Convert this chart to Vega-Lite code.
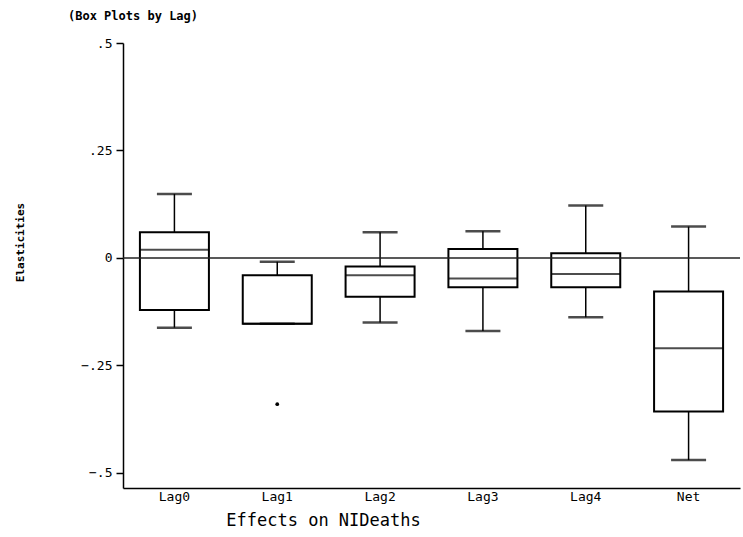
{
  "$schema": "https://vega.github.io/schema/vega-lite/v6.json",
  "width": 617,
  "height": 445,
  "autosize": {"type": "none"},
  "padding": {"left": 123, "top": 43, "right": 3, "bottom": 49},
  "background": "white",
  "config": {"view": {"stroke": null}, "font": "DejaVu Sans Mono"},
  "title": {"text": "(Box Plots by Lag)", "anchor": "start", "frame": "group", "dx": -55, "offset": 14, "fontSize": 12, "fontWeight": "bold", "font": "DejaVu Sans Mono", "color": "black"},
  "datasets": {
    "boxes": [
      {"lag": "Lag0", "lower": -0.162, "q1": -0.121, "median": 0.019, "q3": 0.060, "upper": 0.149},
      {"lag": "Lag1", "lower": -0.153, "q1": -0.153, "median": -0.153, "q3": -0.040, "upper": -0.009},
      {"lag": "Lag2", "lower": -0.150, "q1": -0.090, "median": -0.040, "q3": -0.020, "upper": 0.060},
      {"lag": "Lag3", "lower": -0.170, "q1": -0.068, "median": -0.048, "q3": 0.021, "upper": 0.062},
      {"lag": "Lag4", "lower": -0.138, "q1": -0.068, "median": -0.037, "q3": 0.011, "upper": 0.122},
      {"lag": "Net", "lower": -0.470, "q1": -0.357, "median": -0.210, "q3": -0.078, "upper": 0.073}
    ],
    "outliers": [
      {"lag": "Lag1", "value": -0.340}
    ],
    "zero": [
      {"ref": 0}
    ]
  },
  "layer": [
    {
      "data": {"name": "boxes"},
      "mark": {"type": "rule", "color": "black", "strokeWidth": 1.5},
      "encoding": {
        "x": {
          "field": "lag", "type": "nominal", "sort": null,
          "scale": {"paddingInner": 0, "paddingOuter": 0, "domain": ["Lag0", "Lag1", "Lag2", "Lag3", "Lag4", "Net"]},
          "axis": {
            "title": "Effects on NIDeaths", "titleFontSize": 17, "titleFontWeight": "normal", "titleColor": "black", "titleFont": "DejaVu Sans Mono",
            "titleX": 200, "titleY": 32, "titleAnchor": "middle", "titleBaseline": "middle",
            "labelAngle": 0, "labelFontSize": 13, "labelColor": "black", "labelPadding": 2,
            "ticks": false, "domainColor": "black", "domainWidth": 1.5, "grid": false
          }
        },
        "y": {
          "field": "lower", "type": "quantitative",
          "scale": {"domain": [-0.535, 0.5], "nice": false, "zero": false},
          "axis": {
            "title": "Elasticities", "titleFontSize": 11, "titleFontWeight": "bold", "titleColor": "black", "titleFont": "DejaVu Sans Mono",
            "titleX": -103, "titleY": 199, "titleAngle": -90, "titleBaseline": "middle",
            "values": [-0.5, -0.25, 0, 0.25, 0.5],
            "labelExpr": "datum.value == 0 ? '0' : replace(format(datum.value, '.2~f'), '0.', '.')",
            "labelFontSize": 13, "labelColor": "black", "labelPadding": 4,
            "tickSize": 7, "tickColor": "black", "tickWidth": 1.5,
            "domainColor": "black", "domainWidth": 1.5, "grid": false
          }
        },
        "y2": {"field": "upper"}
      }
    },
    {
      "data": {"name": "boxes"},
      "mark": {"type": "bar", "fill": "white", "stroke": "black", "strokeWidth": 2, "size": 69},
      "encoding": {
        "x": {"field": "lag", "type": "nominal", "sort": null},
        "y": {"field": "q1", "type": "quantitative"},
        "y2": {"field": "q3"}
      }
    },
    {
      "data": {"name": "boxes"},
      "mark": {"type": "tick", "color": "black", "size": 69, "thickness": 2},
      "encoding": {
        "x": {"field": "lag", "type": "nominal", "sort": null},
        "y": {"field": "median", "type": "quantitative"}
      }
    },
    {
      "data": {"name": "boxes"},
      "mark": {"type": "tick", "color": "black", "size": 35, "thickness": 2.5},
      "encoding": {
        "x": {"field": "lag", "type": "nominal", "sort": null},
        "y": {"field": "lower", "type": "quantitative"}
      }
    },
    {
      "data": {"name": "boxes"},
      "mark": {"type": "tick", "color": "black", "size": 35, "thickness": 2.5},
      "encoding": {
        "x": {"field": "lag", "type": "nominal", "sort": null},
        "y": {"field": "upper", "type": "quantitative"}
      }
    },
    {
      "data": {"name": "outliers"},
      "mark": {"type": "point", "filled": true, "color": "black", "size": 14, "opacity": 1},
      "encoding": {
        "x": {"field": "lag", "type": "nominal", "sort": null},
        "y": {"field": "value", "type": "quantitative"}
      }
    },
    {
      "data": {"name": "zero"},
      "mark": {"type": "rule", "color": "#222222", "strokeWidth": 1.5},
      "encoding": {"y": {"field": "ref", "type": "quantitative"}}
    }
  ]
}
